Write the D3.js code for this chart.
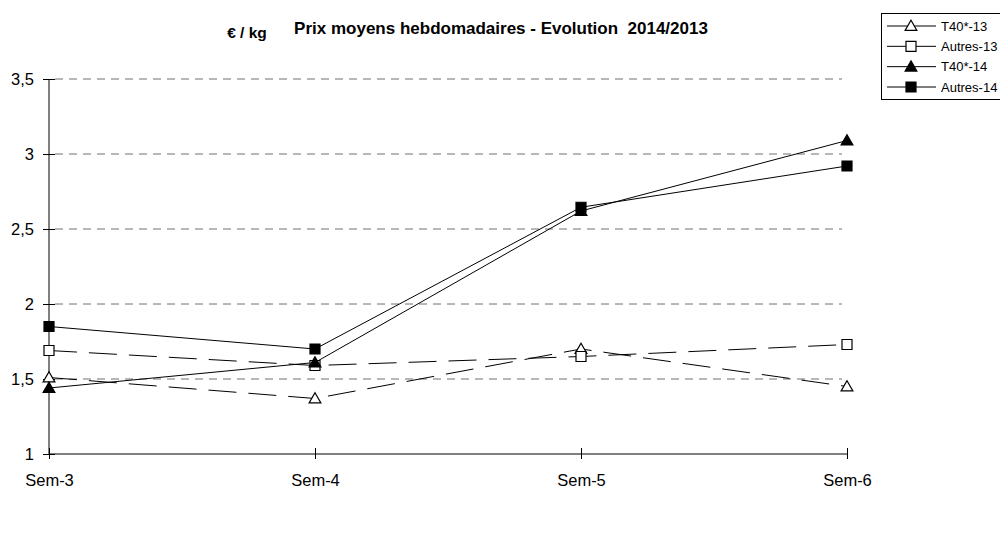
<!DOCTYPE html>
<html>
<head>
<meta charset="utf-8">
<script src="https://cdnjs.cloudflare.com/ajax/libs/d3/7.8.5/d3.min.js"></script>
<style>
  body { margin: 0; background: #fff; }
  svg { font-family: "Liberation Sans", Arial, sans-serif; }
</style>
</head>
<body>
<svg id="chart" width="1000" height="548"></svg>
<script>
// données
const weeks = ['Sem-3', 'Sem-4', 'Sem-5', 'Sem-6'];
const yTicks = [1, 1.5, 2, 2.5, 3, 3.5];
const t40_13 = [1.51, 1.37, 1.70, 1.45];
const autres_13 = [1.69, 1.59, 1.65, 1.73];
const t40_14 = [1.44, 1.61, 2.62, 3.09];
const autres_14 = [1.85, 1.70, 2.645, 2.92];
const seriesNames = ['T40*-13', 'Autres-13', 'T40*-14', 'Autres-14'];

const series = [
  { name: seriesNames[0], values: t40_13, shape: 'triangle', fill: '#fff', dash: '28,12' },
  { name: seriesNames[1], values: autres_13, shape: 'square', fill: '#fff', dash: '28,12' },
  { name: seriesNames[2], values: t40_14, shape: 'triangle', fill: '#000', dash: null },
  { name: seriesNames[3], values: autres_14, shape: 'square', fill: '#000', dash: null }
];

const svg = d3.select('#chart');
const plotLeft = 49, plotRight = 847, plotTop = 79, plotBottom = 454;

const x = d3.scalePoint().domain(weeks).range([plotLeft, plotRight]);
const y = d3.scaleLinear().domain([1, 3.5]).range([plotBottom, plotTop]);

// grille pointillée
svg.append('g')
  .selectAll('line')
  .data(yTicks.filter(d => d > 1))
  .join('line')
  .attr('x1', plotLeft + 6).attr('x2', plotRight - 5)
  .attr('y1', d => y(d)).attr('y2', d => y(d))
  .attr('stroke', '#707070')
  .attr('stroke-width', 1)
  .attr('stroke-dasharray', '8,6');

// axe Y
const yAxis = svg.append('g')
  .attr('transform', `translate(${plotLeft},0)`)
  .call(d3.axisLeft(y).tickValues(yTicks).tickSize(6)
    .tickFormat(d => String(d).replace('.', ',')));
yAxis.select('.domain').attr('stroke', '#000').attr('d', `M0,${plotTop}V${plotBottom}`);
yAxis.selectAll('.tick line').attr('x1', -6).attr('x2', 6).attr('stroke', '#000');
yAxis.selectAll('.tick text').attr('x', -15).attr('dy', '0.36em').attr('font-size', 16.5)
  .attr('font-family', '"Liberation Sans", Arial, sans-serif').attr('fill', '#000');

// axe X
const xAxis = svg.append('g')
  .attr('transform', `translate(0,${plotBottom})`)
  .call(d3.axisBottom(x).tickSize(5));
xAxis.select('.domain').attr('stroke', '#000').attr('d', `M${plotLeft},0H${plotRight}`);
xAxis.selectAll('.tick line').attr('y1', -6).attr('y2', 5).attr('stroke', '#000');
xAxis.selectAll('.tick text').attr('y', 20).attr('font-size', 16.5)
  .attr('font-family', '"Liberation Sans", Arial, sans-serif').attr('fill', '#000');

const symbolFor = s => d3.symbol()
  .type(s.shape === 'triangle' ? d3.symbolTriangle : d3.symbolSquare)
  .size(s.shape === 'triangle' ? 60 : 100);

const line = d3.line().x((d, i) => x(weeks[i])).y(d => y(d));

// courbes
series.forEach(s => {
  svg.append('path')
    .datum(s.values)
    .attr('d', line)
    .attr('fill', 'none')
    .attr('stroke', '#000')
    .attr('stroke-width', 1)
    .attr('stroke-dasharray', s.dash);
});

series.forEach(s => {
  svg.append('g')
    .selectAll('path')
    .data(s.values)
    .join('path')
    .attr('d', symbolFor(s))
    .attr('transform', (d, i) => `translate(${x(weeks[i])},${y(d) + (s.shape === 'triangle' ? 1 : 0)})`)
    .attr('fill', s.fill)
    .attr('stroke', '#000')
    .attr('stroke-width', 1.2);
});

// titres
svg.append('text')
  .attr('x', 247).attr('y', 38)
  .attr('text-anchor', 'middle')
  .attr('font-size', 15.5).attr('font-weight', 'bold')
  .text('€ / kg');
svg.append('text')
  .attr('x', 501).attr('y', 34)
  .attr('text-anchor', 'middle')
  .attr('font-size', 17).attr('font-weight', 'bold')
  .style('white-space', 'pre')
  .text('Prix moyens hebdomadaires - Evolution  2014/2013');

// légende
const legend = svg.append('g');
legend.append('rect')
  .attr('x', 881.5).attr('y', 13.5)
  .attr('width', 130).attr('height', 86)
  .attr('fill', '#fff').attr('stroke', '#000');

const ly = d3.scalePoint().domain(seriesNames).range([26, 87]);
series.forEach(s => {
  const g = legend.append('g').attr('transform', `translate(0,${ly(s.name)})`);
  g.append('line').attr('x1', 887).attr('x2', 936).attr('y1', 0).attr('y2', 0)
    .attr('stroke', '#000');
  g.append('path').attr('d', symbolFor(s))
    .attr('transform', `translate(911,${s.shape === 'triangle' ? 1 : 0})`)
    .attr('fill', s.fill).attr('stroke', '#000').attr('stroke-width', 1.2);
  g.append('text').attr('x', 941).attr('y', 4.5)
    .attr('font-size', 13).text(s.name);
});
</script>
</body>
</html>
